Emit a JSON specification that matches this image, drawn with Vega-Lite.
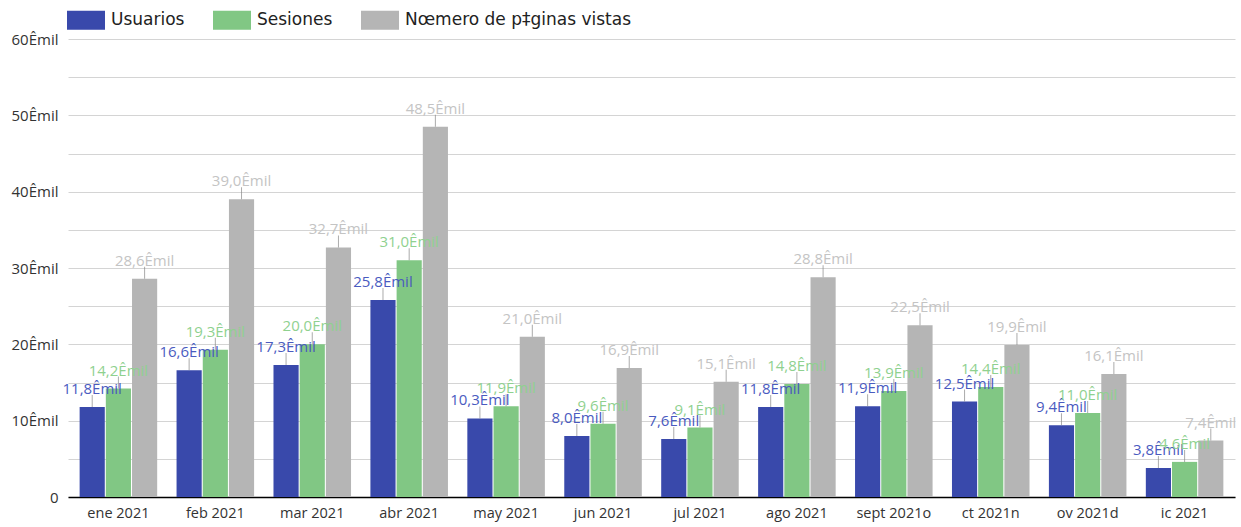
{
  "$schema": "https://vega.github.io/schema/vega-lite/v6.json",
  "autosize": {"type": "none"},
  "width": 1167,
  "height": 458,
  "padding": {"left": 68, "top": 39, "right": 6, "bottom": 30},
  "background": "white",
  "config": {
    "font": "Open Sans",
    "view": {"stroke": null},
    "axis": {"labelFont": "Open Sans", "labelColor": "#333333", "labelFontSize": 15}
  },
  "data": {
    "values": [
      {"mes": "ene 2021", "serie": "Usuarios", "v": 11.8},
      {"mes": "ene 2021", "serie": "Sesiones", "v": 14.2},
      {"mes": "ene 2021", "serie": "Nœmero de p‡ginas vistas", "v": 28.6},
      {"mes": "feb 2021", "serie": "Usuarios", "v": 16.6},
      {"mes": "feb 2021", "serie": "Sesiones", "v": 19.3},
      {"mes": "feb 2021", "serie": "Nœmero de p‡ginas vistas", "v": 39.0},
      {"mes": "mar 2021", "serie": "Usuarios", "v": 17.3},
      {"mes": "mar 2021", "serie": "Sesiones", "v": 20.0},
      {"mes": "mar 2021", "serie": "Nœmero de p‡ginas vistas", "v": 32.7},
      {"mes": "abr 2021", "serie": "Usuarios", "v": 25.8},
      {"mes": "abr 2021", "serie": "Sesiones", "v": 31.0},
      {"mes": "abr 2021", "serie": "Nœmero de p‡ginas vistas", "v": 48.5},
      {"mes": "may 2021", "serie": "Usuarios", "v": 10.3},
      {"mes": "may 2021", "serie": "Sesiones", "v": 11.9},
      {"mes": "may 2021", "serie": "Nœmero de p‡ginas vistas", "v": 21.0},
      {"mes": "jun 2021", "serie": "Usuarios", "v": 8.0},
      {"mes": "jun 2021", "serie": "Sesiones", "v": 9.6},
      {"mes": "jun 2021", "serie": "Nœmero de p‡ginas vistas", "v": 16.9},
      {"mes": "jul 2021", "serie": "Usuarios", "v": 7.6},
      {"mes": "jul 2021", "serie": "Sesiones", "v": 9.1},
      {"mes": "jul 2021", "serie": "Nœmero de p‡ginas vistas", "v": 15.1},
      {"mes": "ago 2021", "serie": "Usuarios", "v": 11.8},
      {"mes": "ago 2021", "serie": "Sesiones", "v": 14.8},
      {"mes": "ago 2021", "serie": "Nœmero de p‡ginas vistas", "v": 28.8},
      {"mes": "sept 2021o", "serie": "Usuarios", "v": 11.9},
      {"mes": "sept 2021o", "serie": "Sesiones", "v": 13.9},
      {"mes": "sept 2021o", "serie": "Nœmero de p‡ginas vistas", "v": 22.5},
      {"mes": "ct 2021n", "serie": "Usuarios", "v": 12.5},
      {"mes": "ct 2021n", "serie": "Sesiones", "v": 14.4},
      {"mes": "ct 2021n", "serie": "Nœmero de p‡ginas vistas", "v": 19.9},
      {"mes": "ov 2021d", "serie": "Usuarios", "v": 9.4},
      {"mes": "ov 2021d", "serie": "Sesiones", "v": 11.0},
      {"mes": "ov 2021d", "serie": "Nœmero de p‡ginas vistas", "v": 16.1},
      {"mes": "ic 2021", "serie": "Usuarios", "v": 3.8},
      {"mes": "ic 2021", "serie": "Sesiones", "v": 4.6},
      {"mes": "ic 2021", "serie": "Nœmero de p‡ginas vistas", "v": 7.4}
    ]
  },
  "transform": [
    {"calculate": "replace(format(datum.v, '.1f'), '.', ',') + 'Êmil'", "as": "etiqueta"}
  ],
  "encoding": {
    "x": {
      "field": "mes", "type": "nominal", "sort": null,
      "scale": {"paddingInner": 0.2, "paddingOuter": 0.12},
      "axis": {"title": null, "labelAngle": 0, "ticks": false, "domainColor": "#000000", "domainWidth": 1.5, "labelPadding": 9, "labelFontSize": 14.5}
    },
    "xOffset": {
      "field": "serie", "type": "nominal",
      "sort": ["Usuarios", "Sesiones", "Nœmero de p‡ginas vistas"],
      "scale": {"paddingInner": 0.04}
    },
    "y": {
      "field": "v", "type": "quantitative",
      "scale": {"domain": [0, 60], "nice": false},
      "axis": {
        "title": null, "values": [0,5,10,15,20,25,30,35,40,45,50,55,60],
        "labelExpr": "datum.value % 10 == 0 ? (datum.value == 0 ? '0' : datum.value + 'Êmil') : ''",
        "domain": false, "ticks": false, "gridColor": "#d4d4d4", "labelPadding": 10
      }
    }
  },
  "layer": [
    {
      "mark": {"type": "bar"},
      "encoding": {
        "color": {
          "field": "serie", "type": "nominal",
          "sort": ["Usuarios", "Sesiones", "Nœmero de p‡ginas vistas"],
          "scale": {"domain": ["Usuarios", "Sesiones", "Nœmero de p‡ginas vistas"], "range": ["#3949ab", "#81c784", "#b5b5b5"]},
          "legend": {
            "title": null, "orient": "none", "direction": "horizontal",
            "legendX": -1, "legendY": -38,
            "symbolType": "M-1,-0.5H1V0.5H-1Z", "symbolSize": 1444, "symbolStrokeWidth": 0,
            "symbolOpacity": 1, "labelLimit": 0,
            "labelFontSize": 17, "labelFont": "DejaVu Sans", "labelColor": "#222222",
            "columnPadding": 28, "labelOffset": 6
          }
        }
      }
    },
    {
      "mark": {"type": "tick", "orient": "vertical", "size": 12, "thickness": 1, "color": "#888888", "yOffset": -6},
      "encoding": {}
    },
    {
      "mark": {"type": "text", "baseline": "bottom", "dy": -10, "fontSize": 15, "font": "Open Sans"},
      "encoding": {
        "text": {"field": "etiqueta"},
        "color": {
          "field": "serie", "type": "nominal",
          "scale": {"domain": ["Usuarios", "Sesiones", "Nœmero de p‡ginas vistas"], "range": ["#4a5bbf", "#8fd18f", "#c4c4c4"]},
          "legend": null
        }
      }
    }
  ],
  "resolve": {"scale": {"color": "independent"}}
}
